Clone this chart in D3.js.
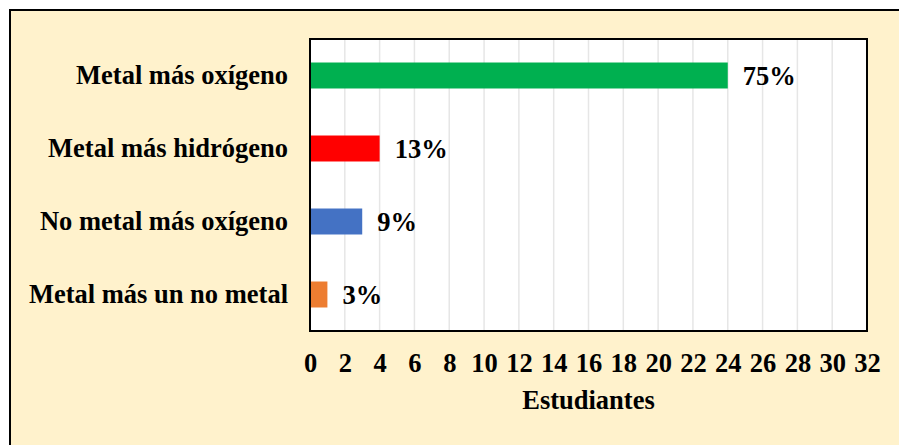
<!DOCTYPE html>
<html><head><meta charset="utf-8">
<script src="https://cdn.jsdelivr.net/npm/d3@7/dist/d3.min.js"></script>
<style>body{margin:0;background:#fff;}svg{display:block;}</style>
</head><body>
<script>
const categories = ["Metal más oxígeno","Metal más hidrógeno","No metal más oxígeno","Metal más un no metal"];
const values = [24, 4, 3, 1];
const labels = ["75%","13%","9%","3%"];
const colors = ["#00B050","#FF0000","#4472C4","#ED7D31"];
const ticks = d3.range(0, 33, 2);

const W = 899, H = 445;
const svg = d3.select("body").append("svg").attr("width", W).attr("height", H);
const font = "'Liberation Serif','Times New Roman',serif";
const fs = 26.5;

svg.append("rect").attr("x", 10).attr("y", 10).attr("width", W + 10).attr("height", H + 10)
  .attr("fill", "#FFF2CC").attr("stroke", "#000").attr("stroke-width", 2);

const m = {l: 310, t: 39, r: 867, b: 331};
const x = d3.scaleLinear().domain([0, 32]).range([m.l, m.r]);
const y = d3.scaleBand().domain(categories).range([m.t, m.b]).paddingInner(0.644).paddingOuter(0.322);

svg.append("rect").attr("x", m.l).attr("y", m.t).attr("width", m.r - m.l).attr("height", m.b - m.t).attr("fill", "#fff");

svg.append("g").selectAll("line").data(ticks.slice(1)).join("line")
  .attr("x1", d => x(d)).attr("x2", d => x(d)).attr("y1", m.t).attr("y2", m.b)
  .attr("stroke", "#E6E6E6").attr("stroke-width", 1.5);

svg.append("g").selectAll("rect").data(values).join("rect")
  .attr("x", x(0)).attr("y", (d, i) => y(categories[i]))
  .attr("width", d => x(d) - x(0)).attr("height", y.bandwidth())
  .attr("fill", (d, i) => colors[i]);

svg.append("g").selectAll("text").data(values).join("text")
  .attr("x", d => x(d) + 15).attr("y", (d, i) => y(categories[i]) + y.bandwidth() / 2)
  .attr("dy", "0.35em").attr("font-family", font).attr("font-weight", "bold").attr("font-size", fs)
  .attr("fill", "#000").text((d, i) => labels[i]);

svg.append("rect").attr("x", m.l).attr("y", m.t).attr("width", m.r - m.l).attr("height", m.b - m.t)
  .attr("fill", "none").attr("stroke", "#000").attr("stroke-width", 2);

const yAxis = svg.append("g").attr("transform", `translate(${m.l},0)`)
  .call(d3.axisLeft(y).tickSize(0).tickPadding(22));
yAxis.select(".domain").remove();
yAxis.selectAll("text").attr("font-family", font).attr("font-weight", "bold").attr("font-size", fs).attr("fill", "#000");

const xAxis = svg.append("g").attr("transform", `translate(0,${m.b})`)
  .call(d3.axisBottom(x).tickValues(ticks).tickSize(0).tickPadding(22));
xAxis.select(".domain").remove();
xAxis.selectAll("text").attr("font-family", font).attr("font-weight", "bold").attr("font-size", fs).attr("fill", "#000");

svg.append("text").attr("x", (m.l + m.r) / 2).attr("y", 409).attr("text-anchor", "middle")
  .attr("font-family", font).attr("font-weight", "bold").attr("font-size", fs).attr("fill", "#000")
  .text("Estudiantes");
</script>
</body></html>
